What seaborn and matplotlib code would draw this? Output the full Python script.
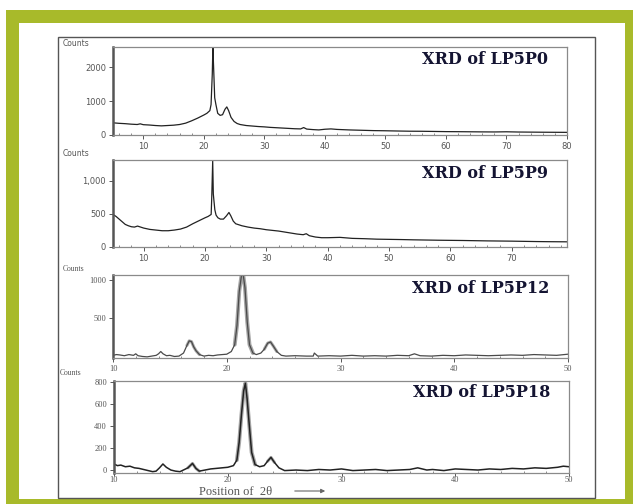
import matplotlib
matplotlib.use("Agg")
import matplotlib.pyplot as plt
import seaborn as sns
import pandas as pd
from matplotlib.patches import Rectangle

# ---------------- data ----------------
tt_p0 = [5, 6, 7, 8, 9, 9.5, 10, 11, 12, 13, 14, 15, 16, 17, 18, 19, 20, 20.5, 21.0, 21.2, 21.4, 21.5,
         21.6, 21.8, 22.0, 22.3, 22.7, 23.1, 23.5, 23.8, 24.1, 24.5, 25.0, 25.5, 26, 27, 28, 29, 30, 31,
         32, 33, 34, 35, 36, 36.5, 37, 38, 39, 40, 41, 42, 44, 46, 48, 50, 52, 54, 56, 58, 60, 62, 64,
         66, 68, 70, 72, 74, 76, 78, 80]
cnt_p0 = [360, 345, 335, 320, 310, 330, 305, 295, 280, 270, 280, 290, 310, 350, 420, 500, 590, 640, 720,
          900, 1800, 2600, 2100, 1100, 900, 640, 580, 600, 760, 830, 720, 520, 400, 340, 310, 280, 265,
          250, 240, 225, 215, 205, 195, 185, 180, 220, 175, 160, 150, 170, 180, 165, 150, 140, 130, 125,
          118, 112, 110, 105, 100, 98, 95, 92, 90, 95, 88, 85, 82, 80, 78]

tt_p9 = [5, 5.5, 6, 6.5, 7, 7.5, 8, 8.5, 9, 9.5, 10, 11, 12, 13, 14, 15, 16, 17, 18, 19, 20, 20.5, 21.0,
         21.1, 21.25, 21.35, 21.45, 21.6, 21.8, 22.1, 22.5, 23.0, 23.5, 23.9, 24.2, 24.6, 25, 26, 27, 28,
         29, 30, 31, 32, 33, 34, 35, 36, 36.5, 37, 38, 39, 40, 42, 44, 46, 48, 50, 52, 54, 56, 58, 60, 62,
         64, 66, 68, 70, 72, 74, 76, 79]
cnt_p9 = [490, 460, 420, 380, 340, 320, 305, 300, 315, 300, 285, 265, 255, 245, 245, 255, 270, 300, 350,
          395, 440, 460, 490, 760, 1300, 800, 700, 560, 480, 440, 420, 420, 470, 520, 470, 390, 350, 320,
          300, 285, 275, 260, 250, 240, 225, 210, 195, 185, 200, 170, 150, 140, 140, 145, 130, 125, 118,
          115, 112, 108, 105, 102, 100, 98, 95, 92, 90, 88, 85, 82, 80, 78]

tt_p12 = [10, 10.3, 10.6, 11.0, 11.4, 11.8, 12.0, 12.2, 12.6, 13.0, 13.4, 13.8, 14.0, 14.2, 14.4, 14.7,
          15.0, 15.4, 15.8, 16.2, 16.5, 16.7, 16.9, 17.1, 17.3, 17.6, 18.0, 18.4, 18.8, 19.2, 19.6, 20.0,
          20.4, 20.7, 20.9, 21.1, 21.3, 21.45, 21.6, 21.8, 22.0, 22.3, 22.6, 23.0, 23.3, 23.6, 23.85,
          24.1, 24.4, 24.8, 25.2, 26, 27, 27.6, 27.7, 28, 29, 30, 31, 32, 33, 34, 35, 36, 36.5, 37, 38,
          39, 40, 41, 42, 43, 44, 45, 46, 47, 48, 49, 50]
cnt_p12 = [10, 20, 15, 5, 20, 10, 30, 5, -5, -10, 0, 10, 30, 60, 30, 5, 10, -5, 0, 40, 140, 200, 190,
           120, 70, 20, 0, 10, 5, 15, 20, 25, 60, 150, 400, 850, 1065, 1065, 900, 450, 150, 40, 20, 40,
           90, 170, 185, 130, 60, 10, 0, 5, 0, 0, 40, 0, 5, 0, 10, 0, 5, 0, 10, 5, 30, 5, 0, 10, 5, 15,
           10, 5, 10, 15, 10, 20, 15, 10, 25]

tt_p18 = [10, 10.3, 10.6, 11.0, 11.4, 11.8, 12.2, 12.6, 13.0, 13.4, 13.7, 14.0, 14.3, 14.6, 15.0, 15.4,
          15.8, 16.2, 16.5, 16.9, 17.2, 17.5, 18.0, 18.5, 19.0, 19.5, 20.0, 20.5, 20.8, 21.0, 21.2, 21.4,
          21.55, 21.7, 21.9, 22.1, 22.4, 22.8, 23.2, 23.5, 23.8, 24.1, 24.5, 25.0, 26, 27, 28, 29, 30,
          31, 32, 33, 34, 35, 36, 36.7, 37.5, 38, 39, 40, 41, 42, 43, 44, 45, 46, 47, 48, 49, 49.5, 50]
cnt_p18 = [55, 40, 45, 30, 35, 20, 15, 5, -5, -15, -10, 20, 55, 25, 0, -10, -15, 5, 20, 60, 15, -10, 0,
           10, 15, 20, 25, 40, 90, 250, 500, 720, 790, 650, 400, 160, 50, 30, 40, 80, 115, 70, 20, -5,
           0, -5, 5, 0, 10, -5, 0, 5, -5, 0, 5, 20, 0, 5, -5, 10, 5, 0, 10, 5, 15, 10, 20, 15, 25, 35, 30]

titles = ["XRD of LP5P0", "XRD of LP5P9", "XRD of LP5P12", "XRD of LP5P18"]
xticks_a = [10, 20, 30, 40, 50, 60, 70, 80]
xticks_b = [10, 20, 30, 40, 50, 60, 70]
xticks_c = [10, 20, 30, 40, 50]
yticks_p0 = [0, 1000, 2000]
yticks_p9 = [0, 500, 1000]
ylabels_p9 = ["0", "500", "1,000"]
yticks_p12 = [500, 1000]
yticks_p18 = [0, 200, 400, 600, 800]
ylabel_txt = "Counts"
xlabel_txt = "Position of  2\u03b8"

# ---------------- figure ----------------
sns.set_theme(style="white")
plt.rcParams["font.family"] = ["DejaVu Sans"]
W, H = 633, 504
fig = plt.figure(figsize=(W / 100, H / 100), dpi=100)
fig.patch.set_facecolor("white")

def R(x0, y0, x1, y1, **kw):
    fig.patches.append(Rectangle((x0 / W, 1 - y1 / H), (x1 - x0) / W, (y1 - y0) / H,
                                 transform=fig.transFigure, **kw))

green = "#a8ba2a"
R(6, 10, 633, 504, facecolor=green, edgecolor="none", zorder=-3)
R(19, 23, 625, 499, facecolor="white", edgecolor="none", zorder=-2)
R(58, 37, 595, 498, facecolor="white", edgecolor="#555555", linewidth=1.0, zorder=-1)

def add_ax(x0, y0, x1, y1):
    return fig.add_axes([x0 / W, 1 - y1 / H, (x1 - x0) / W, (y1 - y0) / H])

boxes = [(113, 47, 567, 135), (113, 160, 567, 247), (113, 275, 568, 358), (114, 381, 569, 473)]
datasets = [(tt_p0, cnt_p0), (tt_p9, cnt_p9), (tt_p12, cnt_p12), (tt_p18, cnt_p18)]
xlims = [(5, 80), (5, 79), (10, 50), (10, 50)]
ylims = [(0, 2600), (0, 1310), (-25, 1065), (-27, 810)]
title_y = [0.86, 0.85, 0.84, 0.87]
counts_pos = [(63, 44), (63, 154), (63, 269), (60, 373)]
serif = ["Liberation Serif", "DejaVu Serif"]
title_font = ["DejaVu Serif"]

for i, (box, (xs, ys)) in enumerate(zip(boxes, datasets)):
    ax = add_ax(*box)
    ax.set_facecolor("white")
    df = pd.DataFrame({"tt": xs, "c": ys})
    fam = ["DejaVu Sans"] if i < 2 else serif
    if i >= 2:
        pk = df[(df.tt >= 20.6) & (df.tt <= 22.4)]
        sns.lineplot(data=pk, x="tt", y="c", ax=ax, color="#a5a5a5", lw=2.8, sort=False)
        for a, b in [(16.3, 17.6), (23.3, 24.4)]:
            sub = df[(df.tt >= a) & (df.tt <= b)]
            sns.lineplot(data=sub, x="tt", y="c", ax=ax, color="#a8a8a8", lw=2.2, sort=False)
    lc = "#222222" if i != 2 else "#4a4a4a"
    lw = 0.9 if i != 3 else 1.1
    sns.lineplot(data=df, x="tt", y="c", ax=ax, color=lc, lw=lw, sort=False)
    ax.set_xlim(*xlims[i])
    ax.set_ylim(*ylims[i])
    ax.set_xlabel("")
    ax.set_ylabel("")
    for s in ["top", "right", "bottom"]:
        ax.spines[s].set_color("#8a8a8a")
        ax.spines[s].set_linewidth(0.9)
    ax.spines["left"].set_color("#555555")
    ax.spines["left"].set_linewidth(1.8)
    if i == 0:
        ax.set_xticks(xticks_a); ax.set_yticks(yticks_p0)
    elif i == 1:
        ax.set_xticks(xticks_b); ax.set_yticks(yticks_p9); ax.set_yticklabels(ylabels_p9)
    elif i == 2:
        ax.set_xticks(xticks_c); ax.set_yticks(yticks_p12)
    else:
        ax.set_xticks(xticks_c); ax.set_yticks(yticks_p18)
    ax.tick_params(axis="both", labelsize=6, colors="#555555", length=3, width=0.7, pad=2,
                   left=True, bottom=True)
    if i == 3:
        ax.tick_params(axis="x", pad=0.5, length=2)
    ax.minorticks_on()
    ax.tick_params(axis="x", which="minor", direction="in", length=1.5, width=0.6, color="#777777",
                   bottom=True)
    ax.tick_params(axis="y", which="minor", left=False)
    for lab in ax.get_xticklabels() + ax.get_yticklabels():
        lab.set_fontfamily(fam)
    ax.text(0.958, title_y[i], titles[i], transform=ax.transAxes, ha="right", va="center",
            fontsize=11.5, fontweight="bold", color="#141432", family=title_font)
    cx, cy = counts_pos[i]
    fig.text(cx / W, 1 - cy / H, ylabel_txt, fontsize=5.5, color="#555555", family=fam,
             ha="left", va="center")

fig.text(199 / W, 1 - 492 / H, xlabel_txt, fontsize=9, color="#555555", family=serif,
         ha="left", va="center")
fig.add_artist(matplotlib.patches.FancyArrowPatch((292 / W, 1 - 491 / H), (328 / W, 1 - 491 / H),
                                                  transform=fig.transFigure, arrowstyle="-|>",
                                                  mutation_scale=6, color="#666666", lw=0.8))

fig.savefig("out.png", dpi=100)
